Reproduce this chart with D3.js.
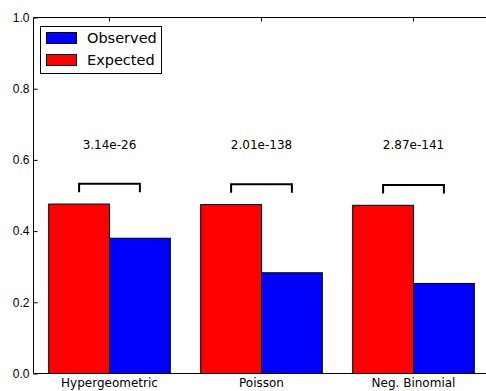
<!DOCTYPE html>
<html>
<head>
<meta charset="utf-8">
<script src="https://cdn.jsdelivr.net/npm/d3@7"></script>
<style>
  body { margin: 0; background: #fff; }
  svg { display: block; font-family: "DejaVu Sans", sans-serif; }
</style>
</head>
<body>
<div id="chart"></div>
<script>
// data
var categories = ["Hypergeometric", "Poisson", "Neg. Binomial"]
var expected = [0.476, 0.4745, 0.4725]
var observed = [0.380, 0.283, 0.253]
var pvalues = ["3.14e-26", "2.01e-138", "2.87e-141"]
var yTicks = [0.0, 0.2, 0.4, 0.6, 0.8, 1.0]

var W = 486, H = 391
var barWidth = 0.4

var svg = d3.select("#chart")
    .append("svg")
    .attr("width", W)
    .attr("height", H)

// scales: x in category index units, y from 0 to 1
var x = d3.scaleLinear()
    .domain([-0.5, 2.5])
    .range([33.5, 489.5])
var y = d3.scaleLinear()
    .domain([0, 1])
    .range([373.5, 17.5])

// bars - expected (red) left of the tick, observed (blue) right of it
svg.append("g")
    .selectAll("rect")
    .data(expected)
    .enter()
    .append("rect")
    .attr("x", function (d, i) { return x(i - barWidth) })
    .attr("y", function (d) { return y(d) })
    .attr("width", x(barWidth) - x(0))
    .attr("height", function (d) { return y(0) - y(d) })
    .attr("fill", "#ff0000")
    .attr("stroke", "#000")
    .attr("stroke-width", 1)

svg.append("g")
    .selectAll("rect")
    .data(observed)
    .enter()
    .append("rect")
    .attr("x", function (d, i) { return x(i) })
    .attr("y", function (d) { return y(d) })
    .attr("width", x(barWidth) - x(0))
    .attr("height", function (d) { return y(0) - y(d) })
    .attr("fill", "#0000ff")
    .attr("stroke", "#000")
    .attr("stroke-width", 1)

// significance brackets + p-values
var ann = svg.append("g")
categories.forEach(function (c, i) {
    var top = Math.max(expected[i], observed[i]) + 0.057
    var x1 = x(i - barWidth / 2), x2 = x(i + barWidth / 2)
    ann.append("path")
        .attr("d", "M" + x1 + "," + y(top - 0.024) + "V" + y(top) + "H" + x2 + "V" + y(top - 0.024))
        .attr("fill", "none")
        .attr("stroke", "#000")
        .attr("stroke-width", 2)
    ann.append("text")
        .attr("x", x(i))
        .attr("y", y(0.642))
        .attr("dy", "0.35em")
        .attr("text-anchor", "middle")
        .style("font-size", "12px")
        .text(pvalues[i])
})

// frame
svg.append("path")
    .attr("d", "M" + x.range()[1] + "," + y(1) + "H" + x.range()[0] + "V" + y(0) + "H" + x.range()[1])
    .attr("fill", "none")
    .attr("stroke", "#000")
    .attr("stroke-width", 1)

// y axis, ticks pointing inwards
var yAxis = svg.append("g")
    .attr("transform", "translate(" + x.range()[0] + ",0)")
    .call(d3.axisLeft(y).tickValues(yTicks).tickSize(-4).tickPadding(4).tickFormat(d3.format(".1f")))
yAxis.select(".domain").remove()
yAxis.selectAll("text").style("font-size", "12px").attr("fill", "#000")
yAxis.selectAll("line").attr("stroke", "#000")

// top ticks at category centres
svg.append("g")
    .selectAll("line")
    .data(categories)
    .enter()
    .append("line")
    .attr("x1", function (d, i) { return x(i) })
    .attr("x2", function (d, i) { return x(i) })
    .attr("y1", y(1))
    .attr("y2", y(1) + 4)
    .attr("stroke", "#000")

// x labels
svg.append("g")
    .selectAll("text")
    .data(categories)
    .enter()
    .append("text")
    .attr("x", function (d, i) { return x(i) })
    .attr("y", 387)
    .attr("text-anchor", "middle")
    .style("font-size", "12px")
    .text(function (d) { return d })

// legend
var legend = svg.append("g")
legend.append("rect")
    .attr("x", 40.5)
    .attr("y", 26.5)
    .attr("width", 121)
    .attr("height", 47)
    .attr("fill", "#fff")
    .attr("stroke", "#000")
var items = [["Observed", "#0000ff"], ["Expected", "#ff0000"]]
items.forEach(function (it, i) {
    legend.append("rect")
        .attr("x", 46.5)
        .attr("y", 32.5 + i * 22)
        .attr("width", 30)
        .attr("height", 11)
        .attr("fill", it[1])
        .attr("stroke", "#000")
    legend.append("text")
        .attr("x", 87)
        .attr("y", 43 + i * 22)
        .style("font-size", "14.5px")
        .text(it[0])
})
</script>
</body>
</html>
